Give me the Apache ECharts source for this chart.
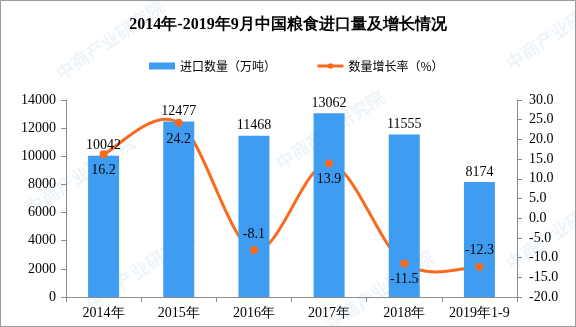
<!DOCTYPE html>
<html>
<head>
<meta charset="utf-8">
<script src="https://cdn.jsdelivr.net/npm/echarts@6/dist/echarts.min.js"></script>
<style>
  html, body { margin: 0; padding: 0; background: #fff; }
  #chart { width: 576px; height: 327px; }
</style>
</head>
<body>
<div id="chart"></div>
<script>
// Annual grain imports and year-on-year growth
const categories = ['2014年', '2015年', '2016年', '2017年', '2018年', '2019年1-9'];
const importVolume = [10042, 12477, 11468, 13062, 11555, 8174];      // 万吨
const growthRate = [16.2, 24.2, -8.1, 13.9, -11.5, -12.3];          // %
const growthLabelPos = ['bottom', 'bottom', 'top', 'bottom', 'bottom', 'top'];

const FONT = 'Liberation Serif';
const CJK = 'Noto Sans CJK SC';
const BAR_COLOR = '#3E9DF1';
const LINE_COLOR = '#F96A1E';

// faint repeated brand marks in the background
const marks = [];
const spots = [[110, 40], [560, 30], [80, 175], [330, 130], [140, 270], [380, 290], [560, 230]];
spots.forEach(([x, y]) => {
  marks.push({
    type: 'text', x: x, y: y, rotation: Math.PI * 34 / 180, silent: true, z: -10,
    style: { text: '中商产业研究院', font: 'bold 18px ' + CJK, fill: 'rgba(140,185,225,0.16)', align: 'center', verticalAlign: 'middle' }
  });
});

// Catmull-Rom style segment between point i and i+1, in pixel space from the axis scale
function renderGrowthSegment(params, api) {
  const i = params.dataIndex;
  const n = growthRate.length;
  if (i >= n - 1) return null;
  const pt = k => api.coord([Math.min(Math.max(k, 0), n - 1), growthRate[Math.min(Math.max(k, 0), n - 1)]]);
  const p0 = pt(i - 1), p1 = pt(i), p2 = pt(i + 1), p3 = pt(i + 2);
  return {
    type: 'bezierCurve',
    shape: {
      x1: p1[0], y1: p1[1], x2: p2[0], y2: p2[1],
      cpx1: p1[0] + (p2[0] - p0[0]) / 6, cpy1: p1[1] + (p2[1] - p0[1]) / 6,
      cpx2: p2[0] - (p3[0] - p1[0]) / 6, cpy2: p2[1] - (p3[1] - p1[1]) / 6
    },
    style: { stroke: LINE_COLOR, lineWidth: 3, fill: null, lineCap: 'round' }
  };
}

const chart = echarts.init(document.getElementById('chart'), null, { renderer: 'canvas' });
chart.setOption({
  backgroundColor: '#fff',
  animation: false,
  graphic: marks.concat([{
    type: 'rect', shape: { x: 0.5, y: 0.5, width: 575, height: 326 }, silent: true,
    style: { fill: 'none', stroke: '#9a9a9a', lineWidth: 1 }
  }]),
  title: {
    text: '2014年-2019年9月中国粮食进口量及增长情况',
    left: 'center', top: 12,
    textStyle: { fontFamily: 'Liberation Serif', fontSize: 16, fontWeight: 'bold', color: '#000' }
  },
  legend: {
    top: 55, left: 144, itemGap: 40, itemWidth: 26, itemHeight: 7,
    textStyle: { fontFamily: CJK, fontSize: 12, color: '#000' },
    data: [
      { name: '进口数量（万吨）', icon: 'rect' },
      { name: '数量增长率（%）', lineStyle: { color: LINE_COLOR, width: 3, opacity: 1 } }
    ]
  },
  grid: { left: 66, right: 59, top: 100, bottom: 30 },
  xAxis: {
    type: 'category', data: categories,
    axisLine: { lineStyle: { color: '#8c8c8c' } },
    axisTick: { show: true, length: 5, lineStyle: { color: '#8c8c8c' } },
    axisLabel: { color: '#000', fontFamily: FONT, fontSize: 14, margin: 9, interval: 0 }
  },
  yAxis: [
    {
      type: 'value', min: 0, max: 14000, interval: 2000,
      axisLine: { show: true, lineStyle: { color: '#8c8c8c' } },
      axisTick: { show: true, length: 5, lineStyle: { color: '#8c8c8c' } },
      splitLine: { show: false },
      axisLabel: { color: '#000', fontFamily: FONT, fontSize: 14, margin: 10, formatter: v => String(v) }
    },
    {
      type: 'value', min: -20, max: 30, interval: 5, position: 'right',
      axisLine: { show: true, lineStyle: { color: '#8c8c8c' } },
      axisTick: { show: true, length: 5, lineStyle: { color: '#8c8c8c' } },
      splitLine: { show: false },
      axisLabel: { color: '#000', fontFamily: FONT, fontSize: 14, margin: 12, formatter: v => v.toFixed(1) }
    }
  ],
  series: [
    {
      name: '进口数量（万吨）', type: 'bar', data: importVolume, barWidth: 31,
      itemStyle: { color: BAR_COLOR },
      label: { show: true, position: 'top', distance: 3, color: '#000', fontFamily: FONT, fontSize: 14 }
    },
    {
      name: 'growthCurve', type: 'custom', yAxisIndex: 1,
      data: growthRate.map((v, i) => [i, v]),
      encode: { x: 0, y: 1 },
      renderItem: renderGrowthSegment,
      silent: true, z: 2
    },
    {
      name: '数量增长率（%）', type: 'line', yAxisIndex: 1,
      data: growthRate.map((v, i) => ({ value: v, label: { position: growthLabelPos[i] } })),
      symbol: 'circle', symbolSize: 8,
      lineStyle: { color: LINE_COLOR, width: 3, opacity: 0 },
      itemStyle: { color: LINE_COLOR },
      label: { show: true, distance: 5, color: '#000', fontFamily: FONT, fontSize: 14, formatter: p => p.value.toFixed(1) },
      z: 3
    }
  ]
});
</script>
</body>
</html>
